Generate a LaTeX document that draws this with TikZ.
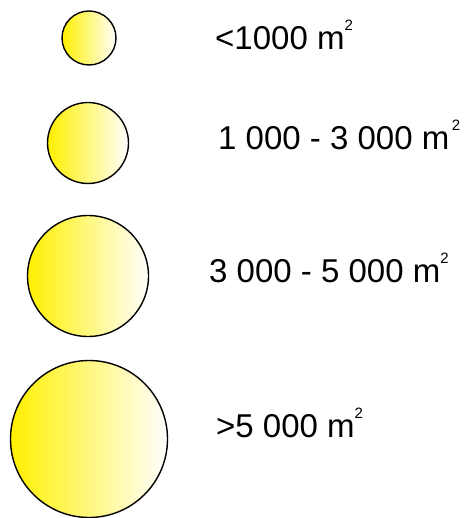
\documentclass[tikz,border=0pt]{standalone}
\usepackage{fontspec}
\setmainfont{Liberation Sans}
\definecolor{sunyellow}{RGB}{255,240,0}
\tikzset{
  disc/.style={draw=black, line width=1.4pt, circle, inner sep=0pt, left color=sunyellow, right color=white, shading angle=90},
  label/.style={anchor=base west, inner sep=0pt, font=\fontsize{33}{40}\selectfont}
}
\newcommand{\sqsup}{\raisebox{19pt}{\fontsize{15}{16}\selectfont 2}}
\begin{document}
\begin{tikzpicture}[x=1pt,y=1pt]
\useasboundingbox (0,0) rectangle (464,-518);
\node[disc, minimum size=54pt] (c1) at (89,-38) {};
\node[disc, minimum size=81pt] (c2) at (88,-143) {};
\node[disc, minimum size=121pt] (c3) at (88,-276) {};
\node[disc, minimum size=157pt] (c4) at (89,-439) {};
\node[label] (t1) at (215,-50) {<1000 m\sqsup};
\node[label] (t2) at (218,-150) {1 000 - 3 000 m\hspace{2.5pt}\sqsup};
\node[label] (t3) at (209,-282) {3 000 - 5 000 m\sqsup};
\node[label] (t4) at (216,-437) {>5 000 m\sqsup};
\end{tikzpicture}
\end{document}
